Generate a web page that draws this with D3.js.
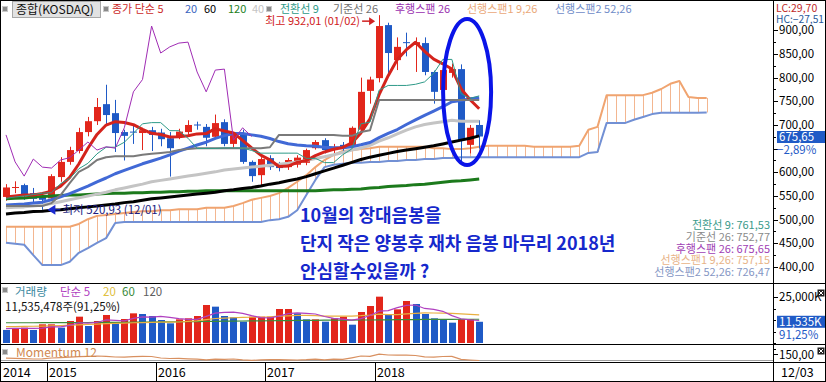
<!DOCTYPE html>
<html>
<head>
<meta charset="utf-8">
<script src="https://cdn.jsdelivr.net/npm/d3@7"></script>
<style>
body {margin: 0; background: #fff}
svg {display: block}
</style>
</head>
<body>
<div id="chart"></div>
<script>
// monthly KOSDAQ chart: candles, moving averages, ichimoku, volume and momentum panels

// ---- data ----
let months = d3.timeMonth.range(new Date(2014, 7, 1), new Date(2019, 0, 1))   // Aug 2014 .. Dec 2018

let open  = [548,567,573,556,548,545,590,622,645,685, 708,744,725,685,686,683,689,684,672,675,
             685,701,696,675,706,660,683,622,594,630, 615,611,616,620,651,668,647,658,654,690,
             772,799,911,837,875,869,873,812,774,810, 818,658,700]
let high  = [575,581,576,567,554,596,632,654,694,717, 757,785,753,690,699,694,696,692,685,692,
             710,707,702,722,712,685,690,625,632,636, 622,630,636,650,668,672,660,664,697,800,
             802,932.01,916,885,895,885,885,815,825,830, 828,700,710]
let low   = [540,556,542,535,520.93,540,580,616,640,676, 700,702,643,625,660,647,645,655,591,670,
             680,690,655,670,655,652,618,580,569,605, 602,605,610,615,648,640,635,640,650,686,
             745,790,806,816,845,812,805,745,768,800, 617,640,650]
let close = [568,569,554,544,542,592,622,647,685,708, 738,721,683,677,684,689,679,670,651,686,
             700,699,673,704,660,679,622,592,628,611, 609,626,631,647,664,647,654,651,694,770,
             796,909,852,865,873,875,812,770,816,818, 668,694,675.65]

let ma5   = [548,550,552,552,555.4,560.2,570.8,589.4,617.6,650.8, 680,699.8,707,705.4,700.6,690.8,682.4,679.8,674.6,675,
             677.2,681.2,681.8,692.4,687.2,683,667.6,651.4,636.2,626.4, 612.4,613.2,621,624.8,635.4,643,648.6,652.6,662,683.2,
             713,764,804.2,838.4,859,874.8,855.4,839,829.2,818.2, 776.8,753.2,734.3]
let ma20  = [531,532,533,535,537,542,548,555,563,571, 580,588,597,604,611,618,624,630,637,644.6,
             651.2,657.7,663.6,671.6,677.5,681.9,681.9,679.1,676.3,671.4, 665,660.2,657.6,656.1,655.1,653,651.8,651.7,653.9,658.1,
             662.9,673.4,682.3,690.4,701,710.8,720.3,729.2,738.6,749, 751.9,755.3,757.5]
let ma40  = [525,526,527,529,531,534,538,542,546,550, 554,558,563,567,571,575,580,583,586,589,
             592,595,598,601,605,607,609,611,613,615, 617,619,622,625,629,633,637,642,647,651,
             657,666,673,681,689,696,701,704,707,710, 708,708,708]
let ma60  = [512,514,515,517,518,520,521,523,525,527, 529,531,533,536,538,541,544,546,548,550,
             552,554,556,558,561,563,566,568,571,575, 578,582,586,591,597,603,609,615,621,627,
             632,636,640,644,647,650,653,656,660,664, 668,672,677]
let ma120 = [544,545,546,548,549,550,551,552,552,553, 554,555,556,556,557,557,558,558,559,559,
             560,560,561,561,561,561,561,561,561,561, 561,561,561,561,561,562,563,563,564,565,
             567,568,570,571,572,574,575,577,579,581, 582,584,586]

let tenkan = [545,548,550,553,556,557,576,587,607.5,619, 639,653,653,663.5,682.5,702.5,705,705,688,688,
              672,650.5,650.5,650.5,651.5,651.5,651.5,646,640.5,640.5, 640.5,640.5,640.5,629.5,629.5,620.5,620.5,637,649.5,702.5,
              706,773.5,783.5,783.5,783.5,786,791,809,838.5,838.5, 766.5,756,761.53]
let kijun  = [529,529,529,529,529,535,552,577,601,611, 626,632,634,634,634,637,639,641,643,647,
              649,651,651,651,651,651,651,651,651,653, 679,679,679,679,679,679,679,677,677,685,
              689,752.77,752.77,752.77,752.77,752.77,752.77,752.77,752.77,752.77, 752.77,752.77,752.77]
// leading spans run 25 bars past the last month
let span1 = [485,485,485,485,485,485,485,485,
             491,501,508,510,512,514,516,518,518,520, 520,522,522,522,525,525,525,529,535,542,
             546,550,556,567,580,594,611,626,637,645, 647,649,651,654,654,654,654,654,654,651,
             651,649,649,651,654,656,656,656,656,656, 654,654,654,654,654,656,690,696,763,763,
             763,763,763,768,776,787,793,759,757,757.15]
let span2 = [451,449,447,425,404,404,404,411,430,440, 451,461,493,495,495,495,495,495,495,495,
             495,495,495,495,495,495,495,495,495,499, 501,506,520,552,584,611,616,618,620,620,
             622,622,624,624,626,626,628,628,630,630, 632,632,632,632,632,632,632,632,632,632,
             632,632,632,632,641,643,704,704,704,711, 717,723,726,726,726,726,726,726.47]

// volume in thousands of shares
let vol     = [7100,8000,8330,7100,10150,10150,8330,11960,14310,9240, 11960,15220,10690,13040,16120,15760,14670,12500,10690,12860,
               13410,14670,20650,19750,14670,13950,11590,14310,14310,14310, 18480,18480,16120,12860,12860,11590,13410,14310,9960,16850,
               20110,25180,15760,18300,22830,21200,15760,13410,12860,11050, 12860,12860,11535]
let volMa5  = [7800,7900,8000,7900,8136,8746,8812,9538,10980,10798, 11160,12538,12284,12030,13406,14166,14056,14418,13948,13296,
               12826,12826,14456,16268,16630,16738,16122,14854,13766,13694, 14600,15978,16340,16050,15760,14382,13368,13006,12426,13224,
               14928,17282,17572,19240,20436,20654,18770,18300,17212,14856, 13188,12608,12233]
let volMa20 = [8900,8950,9000,9100,9200,9350,9500,9700,9900,10100, 10300,10500,10700,10850,11000,11100,11200,11300,11350,11409,
               11725,12058,12674,13307,13533,13723,13886,14003,14003,14257, 14583,14746,15017,15008,14845,14637,14574,14664,14628,14827,
               15162,15688,15443,15371,15779,16141,16350,16305,16232,16069, 15788,15507,15278]
let volMa60 = [11000,11000,11000,11000,11050,11050,11100,11100,11150,11150, 11200,11200,11250,11250,11300,11350,11400,11450,11500,11550,
               11600,11650,11700,11800,11850,11900,11950,12000,12050,12100, 12150,12200,12250,12300,12350,12400,12400,12450,12450,12500,
               12500,12550,12600,12650,12700,12750,12800,12800,12850,12850, 12900,12900,12900]
let momentum = [108,106,104,100,101,110,113,118,124,127, 130,126,120,119,123,127,125,110,105,106,
                102,99,91,98,97,100,91,86,92,94, 94,91,90,93,99,92,99,96,112,130,
                127,149,140,138,138,135,122,119,125,126, 96,90,85]

let priceTicks = [900, 850, 800, 750, 700, 600, 550, 500, 450, 400]
let lastInfo = {price: 675.65, change: -2.89, volume: 11535478, volPct: 91.25, lc: 29.70, hc: -27.51, date: '12/03'}

// ---- layout ----
let width = 826, height = 382
let axisX = 773
let priceBottom = 283, volBottom = 344, momBottom = 362
let ahead = 25
let red = '#e2261b', blue = '#1f5ac6'

let x = d3.scalePoint().domain(d3.range(months.length + ahead)).range([6, 706.7])
let y = d3.scaleLinear().domain([400, 900]).range([267, 30.3])
let yVol = d3.scaleLinear().domain([0, 25000]).range([343, 297])
let yMom = d3.scaleLinear().domain([80, 150]).range([361, 354])

let comma = (v, p) => d3.format(`.${p}f`)(v).replace('.', ',')

let svg = d3.select('#chart')
    .append('svg')
    .attr('width', width)
    .attr('height', height)
    .style('font-family', '"Noto Sans CJK KR", "DejaVu Sans", sans-serif')

svg.append('rect').attr('width', width).attr('height', height).attr('fill', '#fff')

let defs = svg.append('defs')
defs.append('clipPath').attr('id', 'pclip').append('rect')
    .attr('x', 1).attr('y', 1).attr('width', axisX - 1).attr('height', priceBottom - 1)

let gPrice = svg.append('g').attr('clip-path', 'url(#pclip)')

// ichimoku cloud: vertical hatching between the two leading spans
gPrice.selectAll('.hatch')
    .data(d3.range(span1.length))
    .enter()
        .append('line')
        .attr('class', 'hatch')
        .attr('x1', i => Math.round(x(i)) + 0.5)
        .attr('x2', i => Math.round(x(i)) + 0.5)
        .attr('y1', i => y(span1[i]))
        .attr('y2', i => y(span2[i]))
        .attr('stroke', i => span1[i] >= span2[i] ? '#f3b690' : '#9bb0e0')
        .attr('stroke-width', 1)

let line = d3.line().x((d, i) => x(i)).y(d => y(d))

function drawLine(g, data, color, w) {
    g.append('path')
        .attr('d', line(data))
        .attr('fill', 'none')
        .attr('stroke', color)
        .attr('stroke-width', w)
        .attr('stroke-linejoin', 'round')
}

drawLine(gPrice, span2, '#7290d4', 2)
drawLine(gPrice, span1, '#f0a470', 2)

// candles
let candles = gPrice.selectAll('.candle')
    .data(d3.range(close.length))
    .enter()
        .append('g')
        .attr('class', 'candle')

candles.append('line')
    .attr('x1', i => Math.round(x(i)) + 0.5)
    .attr('x2', i => Math.round(x(i)) + 0.5)
    .attr('y1', i => y(high[i]))
    .attr('y2', i => y(low[i]))
    .attr('stroke', i => close[i] >= open[i] ? red : blue)

candles.append('rect')
    .attr('x', i => Math.round(x(i)) - 3)
    .attr('width', 7)
    .attr('y', i => y(Math.max(open[i], close[i])))
    .attr('height', i => Math.max(1, Math.abs(y(open[i]) - y(close[i]))))
    .attr('fill', i => close[i] >= open[i] ? red : blue)

// moving averages
drawLine(gPrice, ma120, '#1c7a1c', 3)
drawLine(gPrice, ma60, '#000000', 3)
drawLine(gPrice, ma40, '#c4c4c4', 3)
drawLine(gPrice, ma20, '#4169d6', 3)
drawLine(gPrice, ma5, '#d4231c', 3)

// ichimoku lines
drawLine(gPrice, kijun, '#7a7a7a', 2)
drawLine(gPrice, tenkan, '#2e9a88', 1)
drawLine(gPrice, close.slice(ahead), '#a02cb4', 1)   // lagging span

// high / low markers
let hiIdx = high.indexOf(d3.max(high))
let loIdx = low.indexOf(d3.min(low))
let hiY = y(high[hiIdx]) + 6
svg.append('text')
    .attr('x', x(hiIdx) - 19).attr('y', hiY + 4)
    .attr('text-anchor', 'end')
    .attr('font-size', 11).attr('fill', '#d02020')
    .text(`최고 ${comma(high[hiIdx], 2)} (01/02)`)
svg.append('line')
    .attr('x1', x(hiIdx) - 17).attr('x2', x(hiIdx) - 8)
    .attr('y1', hiY).attr('y2', hiY)
    .attr('stroke', '#d02020').attr('stroke-width', 1.5)
svg.append('path')
    .attr('d', `M${x(hiIdx) - 4},${hiY} l-6,-4 l0,8 z`)
    .attr('fill', '#d02020')

let loY = y(low[loIdx])
svg.append('path')
    .attr('d', `M${x(loIdx) + 5},${loY} l8,-5 l0,10 z`)
    .attr('fill', '#1a2ad0')
svg.append('line')
    .attr('x1', x(loIdx) + 12).attr('x2', x(loIdx) + 18)
    .attr('y1', loY).attr('y2', loY)
    .attr('stroke', '#1a2ad0')
svg.append('text')
    .attr('x', x(loIdx) + 20).attr('y', loY + 4)
    .attr('font-size', 11.5).attr('fill', '#1c1c80')
    .text(`최저 ${comma(low[loIdx], 2)} (12/01)`)

// commentary
let note = ['10월의 장대음봉을', '단지 작은 양봉후 재차 음봉 마무리 2018년', '안심할수있을까 ?']
svg.selectAll('.note')
    .data(note)
    .enter()
        .append('text')
        .attr('class', 'note')
        .attr('x', 300)
        .attr('y', (d, i) => 222 + i * 28)
        .attr('font-size', 18)
        .attr('font-weight', 'bold')
        .attr('fill', '#1628cc')
        .text(d => d)

// ellipse around the last three months
let last = close.length - 1
svg.append('ellipse')
    .attr('cx', x(last - 1) - 3).attr('cy', 92)
    .attr('rx', 24).attr('ry', 73)
    .attr('fill', 'none')
    .attr('stroke', '#0a14e8')
    .attr('stroke-width', 4)

// ---- top legend ----
function square(px, py) {
    svg.append('rect').attr('x', px + 0.5).attr('y', py + 0.5).attr('width', 5).attr('height', 5)
        .attr('fill', '#8a8a8a').attr('stroke', '#c8c8c8')
}
function label(px, py, txt, color, size) {
    return svg.append('text').attr('x', px).attr('y', py)
        .attr('font-size', size || 11).attr('fill', color).text(txt)
}
square(2, 6)
svg.append('rect').attr('x', 12.5).attr('y', 1.5).attr('width', 88).attr('height', 16)
    .attr('fill', '#e2e2e2').attr('stroke', '#a8a8a8')
label(16, 14, '종합(KOSDAQ)', '#111', 12)
square(103, 6)
label(112, 13, '종가 단순 5', '#cc2a2a')
label(185, 13, '20', '#3a64c0')
label(204, 13, '60', '#000')
label(228, 13, '120', '#238023')
label(252, 13, '40', '#c4c4c4')
square(266, 6)
label(280, 13, '전환선 9', '#2e9a88')
label(333, 13, '기준선 26', '#707070')
label(395, 13, '후행스팬 26', '#9a30b0')
label(467, 13, '선행스팬1 9,26', '#eaa878')
label(555, 13, '선행스팬2 52,26', '#6f8cc8')

// current values of the ichimoku lines
let ichi = [
    ['전환선 9: ', tenkan[last], '#3a9a8a'],
    ['기준선 26: ', kijun[last], '#8a8a8a'],
    ['후행스팬 26: ', close[last], '#a040b4'],
    ['선행스팬1 9,26: ', span1[span1.length - 1], '#e8b488'],
    ['선행스팬2 52,26: ', span2[span2.length - 1], '#8496c4']
]
svg.selectAll('.ichi')
    .data(ichi)
    .enter()
        .append('text')
        .attr('class', 'ichi')
        .attr('x', 770)
        .attr('y', (d, i) => 229 + i * 11.8)
        .attr('text-anchor', 'end')
        .attr('font-size', 11)
        .attr('fill', d => d[2])
        .text(d => d[0] + comma(d[1], 2))

// ---- price axis ----
let gAxis = svg.append('g')
gAxis.selectAll('.tick')
    .data(d3.range(400, 901, 25))
    .enter()
        .append('line')
        .attr('x1', axisX).attr('x2', v => axisX + (v % 50 ? 3 : 5))
        .attr('y1', v => Math.round(y(v)) + 0.5).attr('y2', v => Math.round(y(v)) + 0.5)
        .attr('stroke', '#000')
gAxis.selectAll('.plab')
    .data(priceTicks)
    .enter()
        .append('text')
        .attr('x', axisX + 6).attr('y', v => y(v) + 4)
        .attr('font-size', 11.5).attr('fill', '#000')
        .text(v => comma(v, 2))

label(776, 12, `LC:${comma(lastInfo.lc, 2)}`, '#c02828', 10.5)
label(776, 23, `HC:${comma(lastInfo.hc, 2)}`, '#2a5a9a', 10.5)
    .attr('textLength', 48).attr('lengthAdjust', 'spacingAndGlyphs')
svg.append('rect').attr('x', 777).attr('y', y(lastInfo.price) - 5.5)
    .attr('width', 48).attr('height', 12).attr('fill', blue)
label(779, y(lastInfo.price) + 4.5, comma(lastInfo.price, 2), '#fff', 11.5)
label(777, y(lastInfo.price) + 17.5, `${comma(lastInfo.change, 2)}%`, blue, 11.5)

// ---- volume panel ----
let gVol = svg.append('g')
gVol.selectAll('.vbar')
    .data(vol)
    .enter()
        .append('rect')
        .attr('class', 'vbar')
        .attr('x', (d, i) => Math.round(x(i)) - 3)
        .attr('width', 7)
        .attr('y', d => yVol(d))
        .attr('height', d => yVol(0) - yVol(d))
        .attr('fill', (d, i) => i > 0 && d >= vol[i - 1] ? red : blue)

let vline = d3.line().x((d, i) => x(i)).y(d => yVol(d))
let volLines = [[volMa60, '#3a8a3a'], [volMa20, '#e8b040'], [volMa5, '#b040c0']]
volLines.forEach(([data, color]) => {
    gVol.append('path').attr('d', vline(data)).attr('fill', 'none')
        .attr('stroke', color).attr('stroke-width', 1.2)
})

square(2, 287)
label(15, 296, '거래량', '#3a88a0', 11.5)
label(60, 296, '단순 5', '#b040c0', 11.5)
label(103, 296, '20', '#e0c040', 11.5)
label(122, 296, '60', '#3a8a3a', 11.5)
label(143, 296, '120', '#606060', 11.5)
label(5, 311, `${d3.format(',')(lastInfo.volume)}주(${comma(lastInfo.volPct, 2)}%)`, '#111', 11.5)

let volTicks = [25000, 18750, 12500, 6250, 0]
svg.selectAll('.vtick')
    .data(volTicks)
    .enter()
        .append('line')
        .attr('x1', axisX).attr('x2', (v, i) => axisX + (i == 0 ? 5 : 3))
        .attr('y1', v => Math.round(yVol(v)) + 0.5).attr('y2', v => Math.round(yVol(v)) + 0.5)
        .attr('stroke', '#000')
label(axisX + 6, yVol(25000) + 4, `${d3.format(',')(volTicks[0])}K`, '#000', 11.5)
svg.append('rect').attr('x', 777).attr('y', yVol(lastInfo.volume / 1000) - 6)
    .attr('width', 48).attr('height', 12).attr('fill', blue)
label(779, yVol(lastInfo.volume / 1000) + 4, `${d3.format(',')(Math.round(lastInfo.volume / 1000))}K`, '#fff', 11.5)
label(779, yVol(lastInfo.volume / 1000) + 17, `${comma(lastInfo.volPct, 2)}%`, blue, 11.5)

// ---- momentum panel ----
svg.append('line').attr('x1', 1).attr('x2', axisX).attr('y1', 360.5).attr('y2', 360.5)
    .attr('stroke', '#a0a0a0')
svg.append('path')
    .attr('d', d3.line().x((d, i) => x(i)).y(d => yMom(d))(momentum))
    .attr('fill', 'none').attr('stroke', '#d89060').attr('stroke-width', 1.2)
square(2, 349)
label(16, 357, 'Momentum 12', '#d08850', 12)
svg.append('line').attr('x1', axisX).attr('x2', axisX + 5).attr('y1', 354.5).attr('y2', 354.5).attr('stroke', '#000')
svg.append('line').attr('x1', axisX).attr('x2', axisX + 3).attr('y1', 349.5).attr('y2', 349.5).attr('stroke', '#000')
label(axisX + 6, yMom(150) + 4.5, comma(150, 2), '#000', 11.5)

// little panel icons on the axis
;[289, 347].forEach(py => {
    svg.append('rect').attr('x', 817.5).attr('y', py + 0.5).attr('width', 7).attr('height', 7)
        .attr('fill', '#222')
    svg.append('path').attr('d', `M${819},${py + 2} l4,4 M${823},${py + 2} l-4,4`)
        .attr('stroke', '#fff').attr('stroke-width', 1)
})

// ---- date axis ----
let yearStarts = d3.range(months.length).filter(i => i == 0 || months[i].getMonth() == 0)
let step = x.step()
svg.selectAll('.ysep')
    .data(yearStarts.slice(1))
    .enter()
        .append('line')
        .attr('x1', i => Math.round(x(i) - step / 2) + 0.5)
        .attr('x2', i => Math.round(x(i) - step / 2) + 0.5)
        .attr('y1', momBottom).attr('y2', height)
        .attr('stroke', '#000')
svg.selectAll('.ylab')
    .data(yearStarts)
    .enter()
        .append('text')
        .attr('x', i => i == 0 ? 3 : Math.round(x(i) - step / 2) + 2)
        .attr('y', 377)
        .attr('font-size', 12.5)
        .attr('fill', '#000')
        .text(i => months[i].getFullYear())
label(781, 377, lastInfo.date, '#000', 12.5)

// ---- frame ----
let frame = svg.append('g').attr('stroke', '#000').attr('fill', 'none')
frame.append('rect').attr('x', 0.5).attr('y', 0.5).attr('width', width - 1).attr('height', height - 1)
;[priceBottom, volBottom, momBottom].forEach(py => {
    frame.append('line').attr('x1', 0).attr('x2', width).attr('y1', py + 0.5).attr('y2', py + 0.5)
})
frame.append('line').attr('x1', axisX + 0.5).attr('x2', axisX + 0.5).attr('y1', 0).attr('y2', height)
</script>
</body>
</html>
